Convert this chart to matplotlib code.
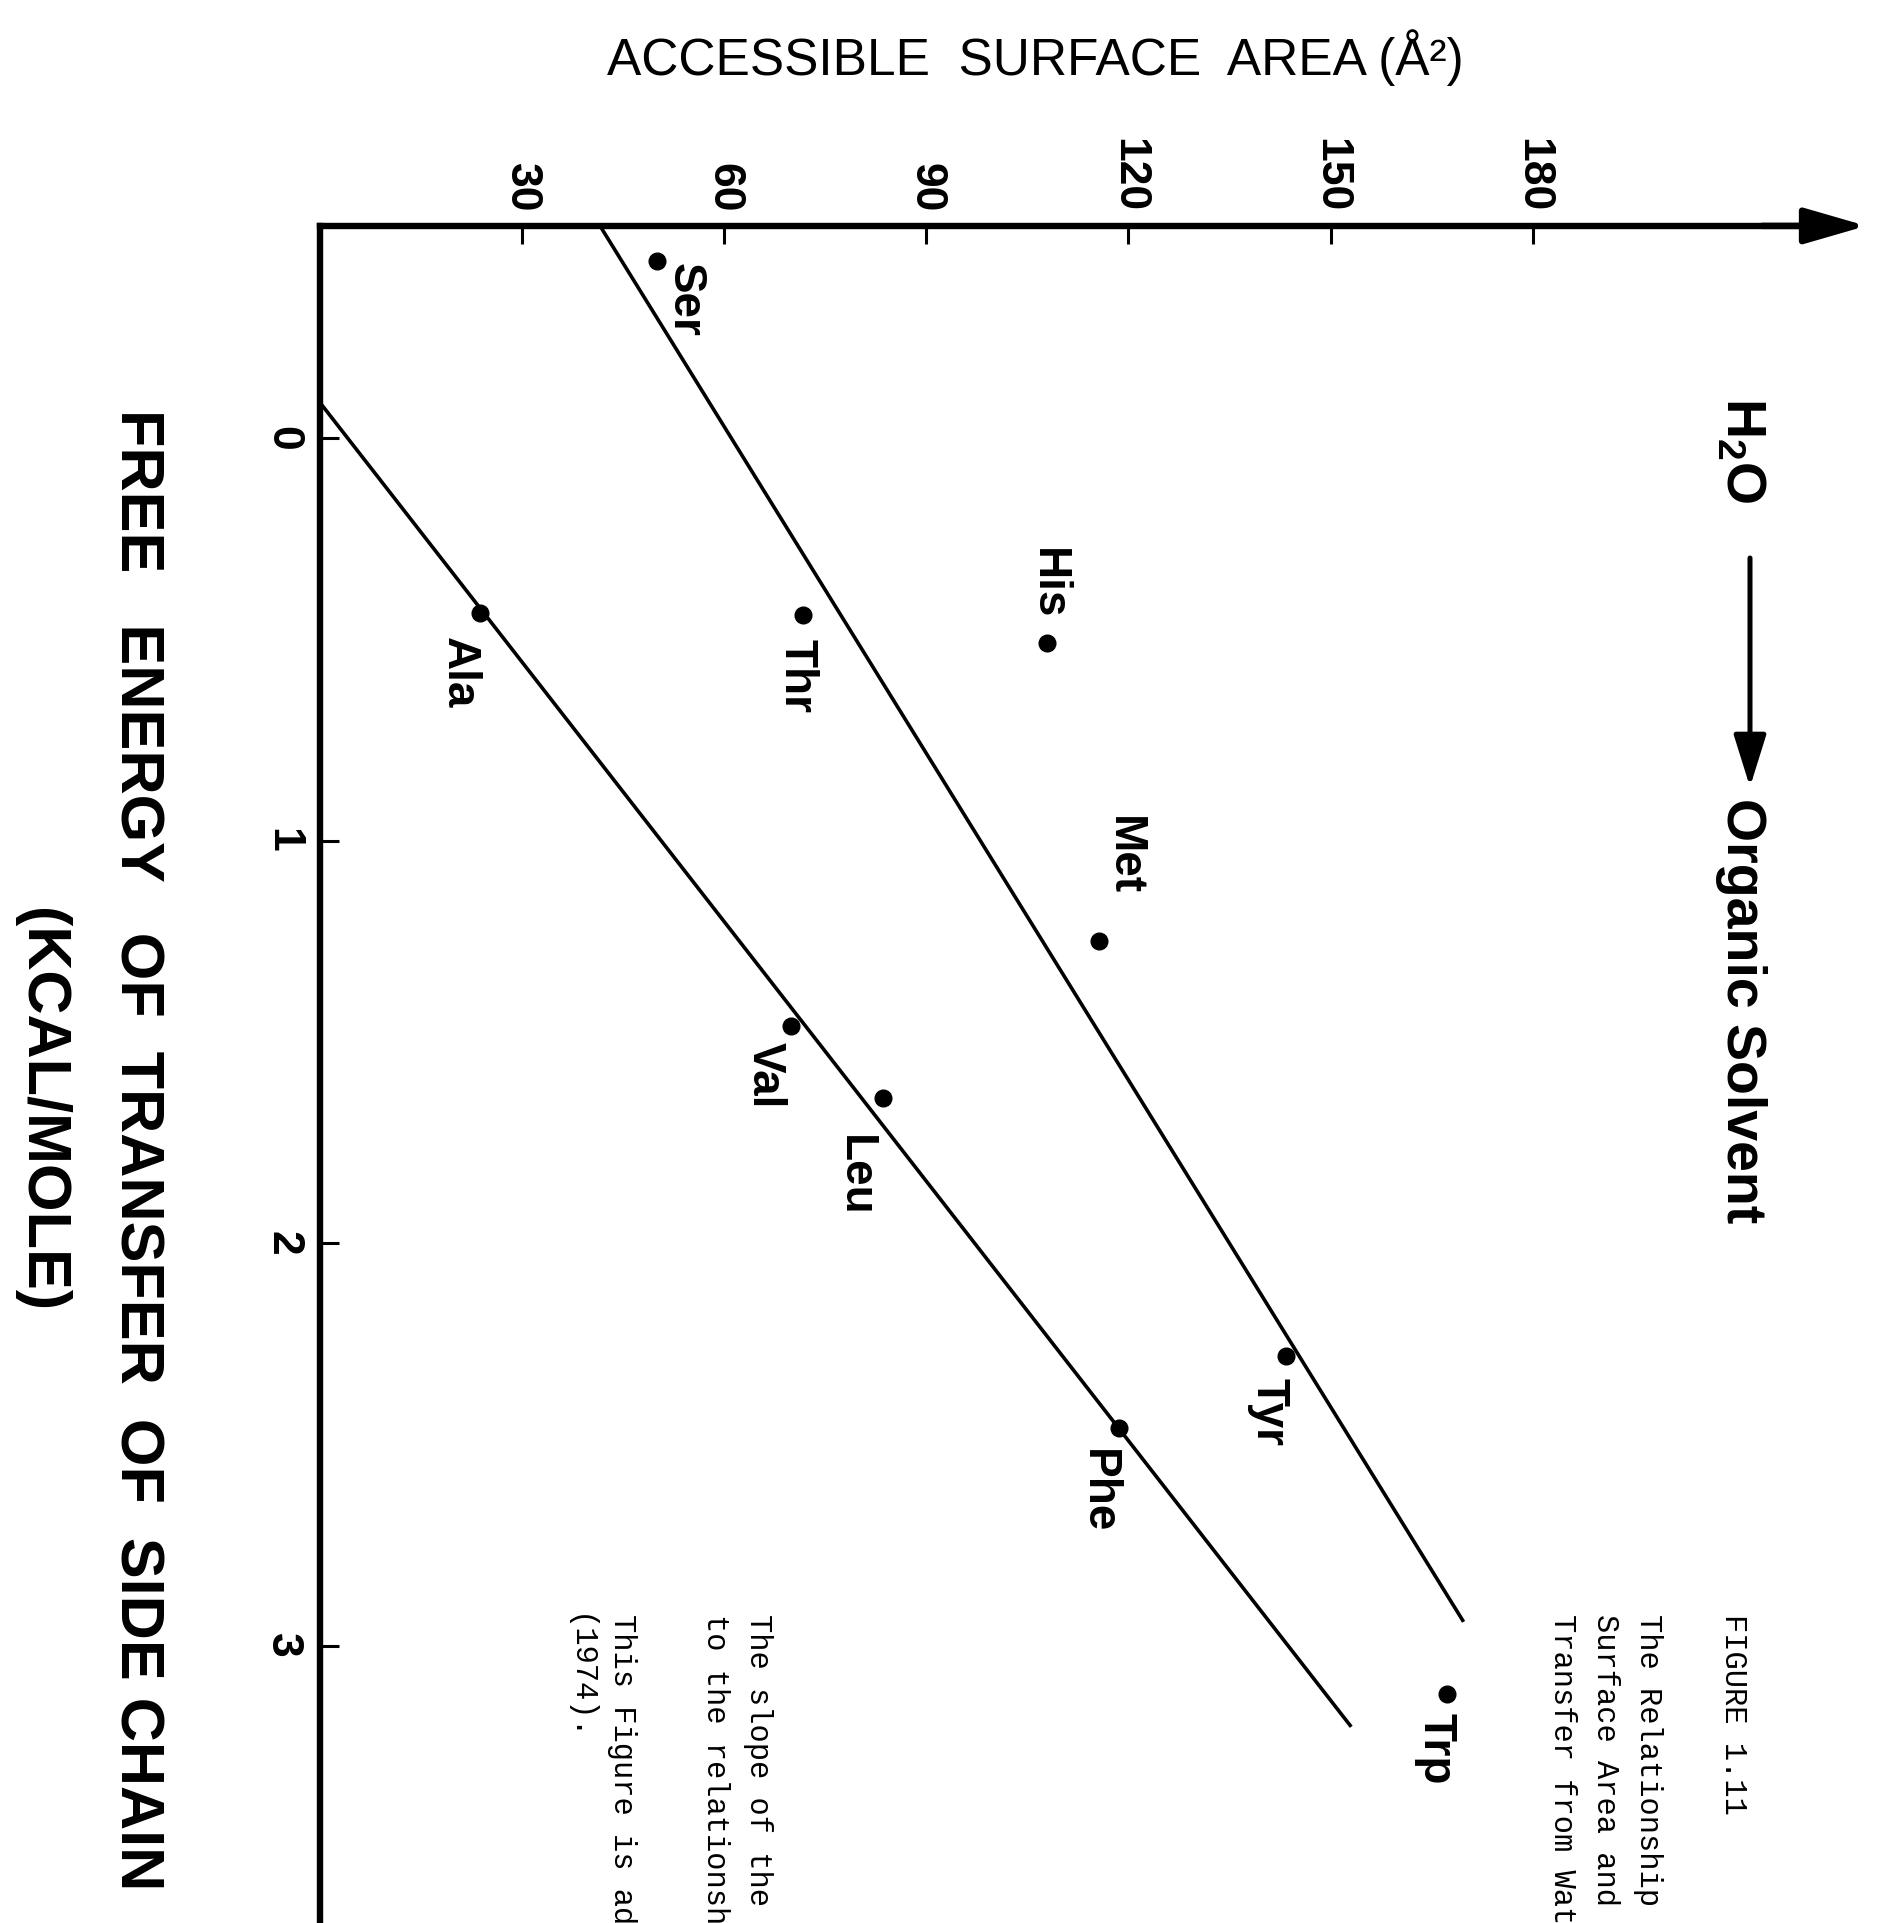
import matplotlib
matplotlib.use('Agg')
import matplotlib.pyplot as plt
import numpy as np

plt.rcParams['font.family'] = ['Liberation Sans', 'DejaVu Sans']
plt.rcParams['mathtext.fontset'] = 'custom'
plt.rcParams['mathtext.rm'] = 'Liberation Sans:bold'
plt.rcParams['mathtext.bf'] = 'Liberation Sans:bold'

# side chains: accessible surface area (A^2) vs free energy of transfer (kcal/mole)
amino = ['Ser', 'Thr', 'His', 'Ala', 'Met', 'Val', 'Leu', 'Tyr', 'Phe', 'Trp']
area = [50.0, 71.7, 107.9, 23.8, 115.6, 69.9, 83.6, 143.4, 118.6, 167.3]
energy = [-0.44, 0.44, 0.51, 0.435, 1.25, 1.46, 1.64, 2.28, 2.46, 3.12]

# where each name sits around its dot (pixels, x right / y down)
label_off = [(28, 39), (-6, 61), (1, -60), (-21, 60), (25, -86),
             (-26, 49), (-28, 78), (-18, 56), (-21, 63), (-12, 55)]

# the two drawn lines
upper_area = [41.6, 169.6]
upper_energy = [-0.527, 2.937]
lower_area = [0.0, 152.9]
lower_energy = [-0.089, 3.198]

area_ticks = [30, 60, 90, 120, 150, 180]
energy_ticks = [0, 1, 2, 3]

W, H = 1881, 1923
fig = plt.figure(figsize=(W / 100, H / 100), dpi=100)
ax = fig.add_axes([0, 0, 1, 1])
ax.set_xlim(-47.44, 231.68)
ax.set_ylim(3.689, -1.0882)

e_top = -0.527
ax.spines['bottom'].set_visible(False)
ax.spines['right'].set_visible(False)
ax.spines['top'].set_position(('data', e_top))
ax.spines['left'].set_position(('data', 0))
ax.spines['top'].set_bounds(0, 222)
ax.spines['left'].set_bounds(e_top, 3.8)
for s in ('top', 'left'):
    ax.spines[s].set_linewidth(4.6)
    ax.spines[s].set_capstyle('projecting')

ax.annotate('', xy=(229.5, e_top), xytext=(214, e_top),
            arrowprops=dict(arrowstyle='-|>,head_length=1.9,head_width=0.55',
                            color='black', lw=4.6, mutation_scale=20,
                            shrinkA=0, shrinkB=0))

ax.xaxis.set_ticks_position('top')
ax.set_xticks(area_ticks)
ax.set_xticklabels([str(t) for t in area_ticks])
ax.tick_params(axis='x', top=True, bottom=False, labeltop=True,
               labelbottom=False, direction='in', length=13, width=2.2,
               labelsize=32, pad=10, labelrotation=270)
ax.set_yticks(energy_ticks)
ax.set_yticklabels([str(t) for t in energy_ticks])
ax.tick_params(axis='y', left=True, right=False, direction='in', length=14,
               width=2.2, labelsize=32, pad=12, labelrotation=270)
for lbl in ax.get_xticklabels() + ax.get_yticklabels():
    lbl.set_fontweight('bold')
for lbl in ax.get_yticklabels():
    lbl.set_va('center')

ax.plot(upper_area, upper_energy, color='black', lw=2.6)
ax.plot(lower_area, lower_energy, color='black', lw=2.6)
ax.plot(area, energy, 'o', color='black', ms=12)

for name, a, e, (dx, dy) in zip(amino, area, energy, label_off):
    ax.annotate(name, xy=(a, e), xytext=(dx, -dy), textcoords='offset pixels',
                rotation=270, ha='center', va='center', fontsize=33,
                fontweight='bold')


def fx(px):
    return px / W


def fy(py):
    return 1 - py / H


fig.text(fx(1035), fy(75), 'ACCESSIBLE  SURFACE  AREA (Å²)', ha='center',
         va='baseline', fontsize=37)
fig.text(fx(136), fy(1150), 'FREE   ENERGY   OF  TRANSFER  OF  SIDE CHAIN',
         rotation=270, ha='center', va='center', fontsize=44, fontweight='bold')
fig.text(fx(40), fy(1110), '(KCAL/MOLE)', rotation=270, ha='center',
         va='center', fontsize=44, fontweight='bold')

# water -> organic solvent direction marker
fig.text(fx(1741), fy(450), r'H$_{\mathrm{2}}$O', rotation=270, ha='center',
         va='center', fontsize=40, fontweight='bold')
ax.annotate('', xy=(1750, H - 787), xytext=(1750, H - 558),
            xycoords='figure pixels', textcoords='figure pixels',
            arrowprops=dict(arrowstyle='-|>,head_length=1.6,head_width=0.5',
                            color='black', lw=3.6, mutation_scale=20,
                            shrinkA=0, shrinkB=0))
fig.text(fx(1741), fy(1011), 'Organic Solvent', rotation=270, ha='center',
         va='center', fontsize=40, fontweight='bold')

# caption, typed in mono
caption = [
    (1733, 'FIGURE 1.11'),
    (1648, 'The Relationship between the Accessible'),
    (1605, 'Surface Area and the Free Energy of'),
    (1562, 'Transfer from Water to Organic Solvent.'),
    (758, 'The slope of the lines corresponds'),
    (716, 'to the relationship of 25 cal/Å².'),
    (622, 'This Figure is adapted from Chothia'),
    (579, '(1974).'),
]
for x, txt in caption:
    fig.text(fx(x), fy(1614), txt, rotation=270, ha='center', va='top',
             fontsize=22, family=['Liberation Mono', 'DejaVu Sans Mono'])

fig.savefig('out.png', dpi=100, facecolor='white')
